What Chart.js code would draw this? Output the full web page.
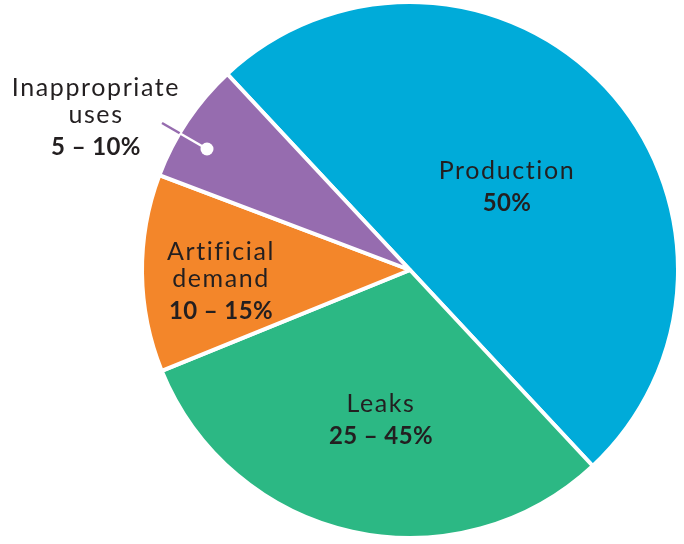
<!DOCTYPE html>
<html>
<head>
<meta charset="utf-8">
<script src="https://cdn.jsdelivr.net/npm/chart.js@4.4.1/dist/chart.umd.min.js"></script>
<style>
  html, body { margin: 0; padding: 0; background: #fff; }
  #wrap { width: 684px; height: 544px; }
</style>
</head>
<body>
<div id="wrap"><canvas id="pie"></canvas></div>
<script>
// data (slice sizes in %, angles)
const categories = ["Production", "Leaks", "Artificial demand", "Inappropriate uses"];
const shares = [50, 30.8, 11.9, 7.3];
const rangeLabels = ["50%", "25 – 45%", "10 – 15%", "5 – 10%"];
const colors = ["#00abd9", "#2cb884", "#f3862a", "#966caf"];

// label text placed per slice
const labelLines = [
    { lines: ["Production"], x: 507, y: 179 },
    { lines: ["Leaks"], x: 381, y: 412 },
    { lines: ["Artificial", "demand"], x: 221, y: 260 },
    { lines: ["Inappropriate", "uses"], x: 96, y: 96 }
];

const textColor = "#231f20";

const labelPlugin = {
    id: "sliceLabels",
    afterDatasetsDraw(chart) {
        const ctx = chart.ctx;
        const arc = chart.getDatasetMeta(0).data[0];

        // leader line for the small purple slice
        const p0 = { x: 162, y: 123 }, p1 = { x: 207, y: 149 };
        const cx = arc.x, cy = arc.y, r = arc.outerRadius;
        // find where the line enters the pie
        let t = 0;
        for (let i = 0; i <= 200; i++) {
            const tt = i / 200;
            const x = p0.x + (p1.x - p0.x) * tt, y = p0.y + (p1.y - p0.y) * tt;
            if (Math.hypot(x - cx, y - cy) <= r) { t = tt; break; }
        }
        const pe = { x: p0.x + (p1.x - p0.x) * t, y: p0.y + (p1.y - p0.y) * t };
        ctx.save();
        ctx.lineWidth = 2.5;
        ctx.strokeStyle = colors[3];
        ctx.beginPath(); ctx.moveTo(p0.x, p0.y); ctx.lineTo(pe.x, pe.y); ctx.stroke();
        ctx.strokeStyle = "#fff";
        ctx.beginPath(); ctx.moveTo(pe.x, pe.y); ctx.lineTo(p1.x, p1.y); ctx.stroke();
        ctx.fillStyle = "#fff";
        ctx.beginPath(); ctx.arc(p1.x, p1.y, 6.5, 0, Math.PI * 2); ctx.fill();

        ctx.fillStyle = textColor;
        ctx.textAlign = "center";
        ctx.textBaseline = "alphabetic";
        labelLines.forEach((lab, i) => {
            let y = lab.y;
            ctx.font = "25px Lato";
            ctx.letterSpacing = "1.6px";
            lab.lines.forEach((ln, k) => {
                ctx.fillText(ln, lab.x, y);
                y += 27;
            });
            y += 5;
            ctx.font = "bold 24px Lato";
            ctx.letterSpacing = "0.4px";
            ctx.fillText(rangeLabels[i], lab.x, y);
        });
        ctx.restore();
    }
};

new Chart(document.getElementById("pie"), {
    type: "pie",
    data: {
        labels: categories,
        datasets: [{
            data: shares,
            backgroundColor: colors,
            borderColor: "#ffffff",
            borderWidth: 4
        }]
    },
    options: {
        responsive: true,
        maintainAspectRatio: false,
        animation: false,
        rotation: -43,
        layout: { padding: { left: 140, right: 4, top: 0, bottom: 4 } },
        plugins: {
            legend: { display: false },
            tooltip: { enabled: false }
        }
    },
    plugins: [labelPlugin]
});
</script>
</body>
</html>
